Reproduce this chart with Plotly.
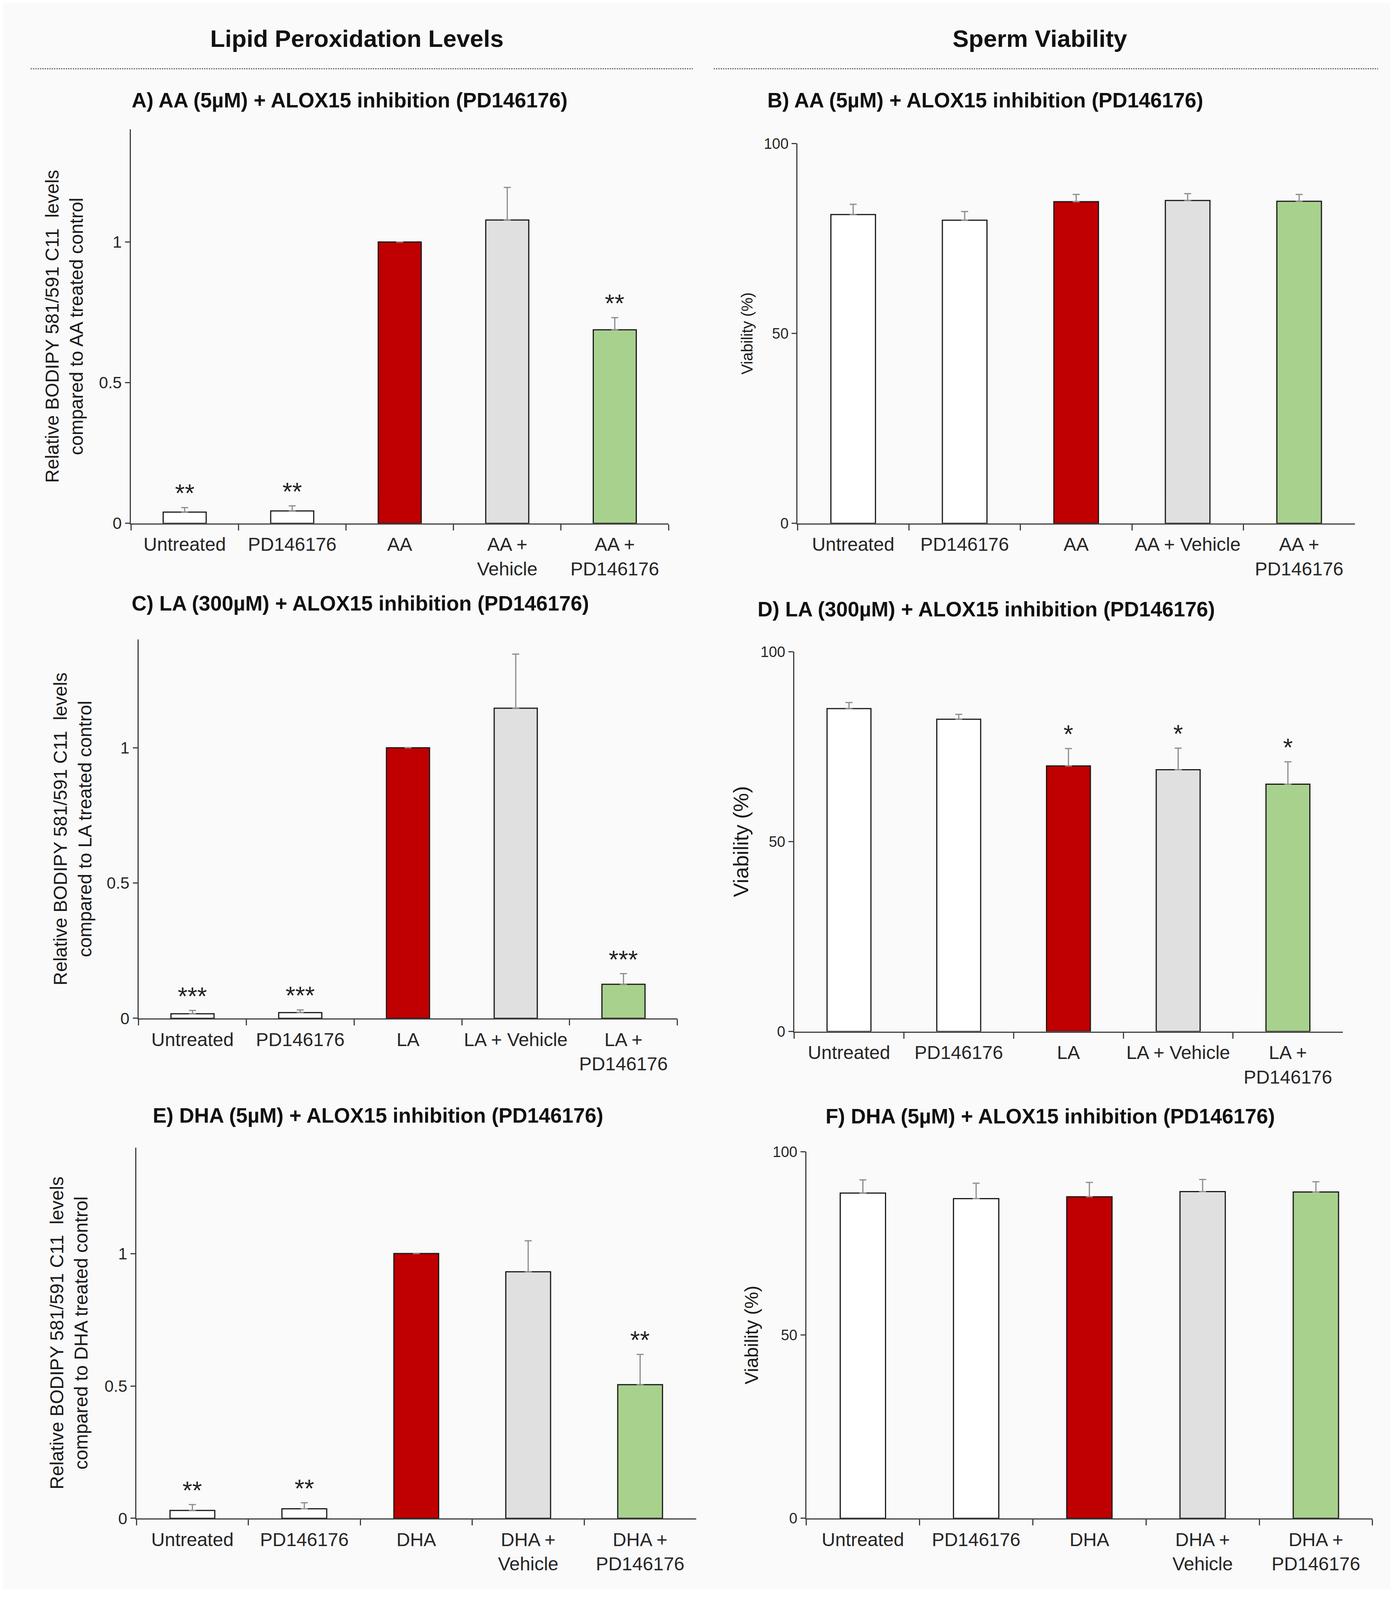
import plotly.graph_objects as go

# --- data ---
bar_colors = ["#FFFFFF", "#FFFFFF", "#C00000", "#E0E0E0", "#A9D18E"]

labels_a = ["Untreated", "PD146176", "AA", "AA +<br>Vehicle", "AA +<br>PD146176"]
lipid_a = [0.040, 0.044, 1.0, 1.078, 0.688]
lipid_a_err = [0.016, 0.018, 0.0, 0.116, 0.043]
stars_a = ["**", "**", "", "", "**"]

labels_b = ["Untreated", "PD146176", "AA", "AA + Vehicle", "AA +<br>PD146176"]
viab_b = [81.3, 79.8, 84.7, 85.0, 84.8]
viab_b_err = [2.7, 2.3, 1.9, 1.8, 1.8]
stars_b = ["", "", "", "", ""]

labels_c = ["Untreated", "PD146176", "LA", "LA + Vehicle", "LA +<br>PD146176"]
lipid_c = [0.017, 0.021, 1.0, 1.146, 0.126]
lipid_c_err = [0.012, 0.010, 0.0, 0.200, 0.039]
stars_c = ["***", "***", "", "", "***"]

labels_d = ["Untreated", "PD146176", "LA", "LA + Vehicle", "LA +<br>PD146176"]
viab_d = [85.0, 82.2, 69.9, 68.9, 65.1]
viab_d_err = [1.6, 1.3, 4.6, 5.7, 5.9]
stars_d = ["", "", "*", "*", "*"]

labels_e = ["Untreated", "PD146176", "DHA", "DHA +<br>Vehicle", "DHA +<br>PD146176"]
lipid_e = [0.030, 0.036, 1.0, 0.931, 0.505]
lipid_e_err = [0.022, 0.023, 0.0, 0.117, 0.114]
stars_e = ["**", "**", "", "", "**"]

labels_f = ["Untreated", "PD146176", "DHA", "DHA +<br>Vehicle", "DHA +<br>PD146176"]
viab_f = [88.7, 87.2, 87.7, 89.1, 89.0]
viab_f_err = [3.6, 4.2, 3.9, 3.3, 2.8]
stars_f = ["", "", "", "", ""]

lipid_ticks = [0, 0.5, 1]
viab_ticks = [0, 50, 100]

# panel placement measured on a 1259 x 1570 preview of the figure
PW, PH = 1259, 1570

panels = [
    dict(title="A) AA (5µM) + ALOX15 inhibition (PD146176)", labels=labels_a, y=lipid_a, err=lipid_a_err,
         stars=stars_a, ymax=1.4, ticks=lipid_ticks, ytick=42,
         ytitle="Relative BODIPY 581/591 C11  levels<br>compared to AA treated control", ytsize=48, stand=26,
         box=(116, 604, 515, 125), tpos=(116, 96)),
    dict(title="B) AA (5µM) + ALOX15 inhibition (PD146176)", labels=labels_b, y=viab_b, err=viab_b_err,
         stars=stars_b, ymax=100, ticks=viab_ticks, ytick=38, ytitle="Viability (%)", ytsize=40, stand=16,
         box=(721, 1227, 515, 139), tpos=(693, 96)),
    dict(title="C) LA (300µM) + ALOX15 inhibition (PD146176)", labels=labels_c, y=lipid_c, err=lipid_c_err,
         stars=stars_c, ymax=1.4, ticks=lipid_ticks, ytick=42,
         ytitle="Relative BODIPY 581/591 C11  levels<br>compared to LA treated control", ytsize=48, stand=24,
         box=(123, 612, 1005, 630), tpos=(116, 594)),
    dict(title="D) LA (300µM) + ALOX15 inhibition (PD146176)", labels=labels_d, y=viab_d, err=viab_d_err,
         stars=stars_d, ymax=100, ticks=viab_ticks, ytick=38, ytitle="Viability (%)", ytsize=54, stand=14,
         box=(718, 1216, 1018, 642), tpos=(684, 600)),
    dict(title="E) DHA (5µM) + ALOX15 inhibition (PD146176)", labels=labels_e, y=lipid_e, err=lipid_e_err,
         stars=stars_e, ymax=1.4, ticks=lipid_ticks, ytick=42,
         ytitle="Relative BODIPY 581/591 C11  levels<br>compared to DHA treated control", ytsize=48, stand=28,
         box=(121, 629, 1500, 1133), tpos=(135, 1101)),
    dict(title="F) DHA (5µM) + ALOX15 inhibition (PD146176)", labels=labels_f, y=viab_f, err=viab_f_err,
         stars=stars_f, ymax=100, ticks=viab_ticks, ytick=38, ytitle="Viability (%)", ytsize=48, stand=22,
         box=(729, 1243, 1500, 1137), tpos=(746, 1102)),
]

FONT = "Liberation Sans, Arial, sans-serif"
AXIS_COL = "#404040"

fig = go.Figure()
layout = {}
annotations = []

for i, p in enumerate(panels, start=1):
    xa = "x" if i == 1 else f"x{i}"
    ya = "y" if i == 1 else f"y{i}"
    x0, x1, yb, yt = p["box"]

    fig.add_trace(go.Bar(
        x=p["labels"], y=p["y"], xaxis=xa, yaxis=ya, width=0.4,
        marker=dict(color=bar_colors, line=dict(color="#1a1a1a", width=3)),
        error_y=dict(type="data", array=p["err"], arrayminus=[0] * len(p["err"]), symmetric=False,
                     color="#8c8c8c", thickness=3, width=9),
        showlegend=False, hoverinfo="x+y",
    ))

    key = "" if i == 1 else str(i)
    layout[f"xaxis{key}"] = dict(
        domain=[x0 / PW, x1 / PW], anchor=ya, type="category", range=[-0.5, 4.5],
        showline=True, linecolor=AXIS_COL, linewidth=3, ticks="outside", tickson="boundaries",
        ticklen=15, tickwidth=3, tickcolor=AXIS_COL, showgrid=False, zeroline=False,
        ticklabelstandoff=10, tickangle=0,
        tickfont=dict(family=FONT, size=48, color="#262626"), automargin=False,
    )
    layout[f"yaxis{key}"] = dict(
        domain=[1 - yb / PH, 1 - yt / PH], anchor=xa, range=[0, p["ymax"]],
        tickvals=p["ticks"], ticktext=[f"{t:g}" for t in p["ticks"]],
        showline=True, linecolor=AXIS_COL, linewidth=3, ticks="outside", ticklen=12, tickwidth=3,
        tickcolor=AXIS_COL, showgrid=False, zeroline=False,
        tickfont=dict(family=FONT, size=p["ytick"], color="#262626"), automargin=False,
        title=dict(text=p["ytitle"], font=dict(family=FONT, size=p["ytsize"], color="#1a1a1a"),
                   standoff=p["stand"]),
    )

    # panel title
    annotations.append(dict(
        text=f"<b>{p['title']}</b>", xref="paper", yref="paper",
        x=p["tpos"][0] / PW, y=1 - p["tpos"][1] / PH, xanchor="left", yanchor="middle",
        showarrow=False, font=dict(family=FONT, size=53, color="#111111"),
    ))

    # significance stars above the error bars
    for lab, val, e, s in zip(p["labels"], p["y"], p["err"], p["stars"]):
        if s:
            annotations.append(dict(
                text=s, xref=xa, yref=ya, x=lab, y=val + e, xanchor="center", yanchor="bottom",
                yshift=-2, showarrow=False, font=dict(family=FONT, size=64, color="#222222"),
            ))

# column headers
annotations.append(dict(text="<b>Lipid Peroxidation Levels</b>", xref="paper", yref="paper",
                        x=321 / PW, y=1 - 35 / PH, xanchor="center", yanchor="middle", showarrow=False,
                        font=dict(family=FONT, size=62, color="#111111")))
annotations.append(dict(text="<b>Sperm Viability</b>", xref="paper", yref="paper",
                        x=941 / PW, y=1 - 35 / PH, xanchor="center", yanchor="middle", showarrow=False,
                        font=dict(family=FONT, size=62, color="#111111")))

shapes = [
    dict(type="line", xref="paper", yref="paper", x0=25 / PW, x1=626 / PW, y0=1 - 65 / PH, y1=1 - 65 / PH,
         line=dict(color="#555555", width=3, dash="dot")),
    dict(type="line", xref="paper", yref="paper", x0=645 / PW, x1=1248 / PW, y0=1 - 65 / PH, y1=1 - 65 / PH,
         line=dict(color="#555555", width=3, dash="dot")),
]

# the visible page area is a little shorter than the nominal window, so keep the figure inside it
fig.update_layout(
    **layout,
    annotations=annotations,
    shapes=shapes,
    width=3550, height=4060,
    margin=dict(l=0, r=0, t=0, b=0),
    paper_bgcolor="#FAFAFA",
    plot_bgcolor="rgba(0,0,0,0)",
    font=dict(family=FONT),
    bargap=0.6,
)

fig.write_html("out.html")
